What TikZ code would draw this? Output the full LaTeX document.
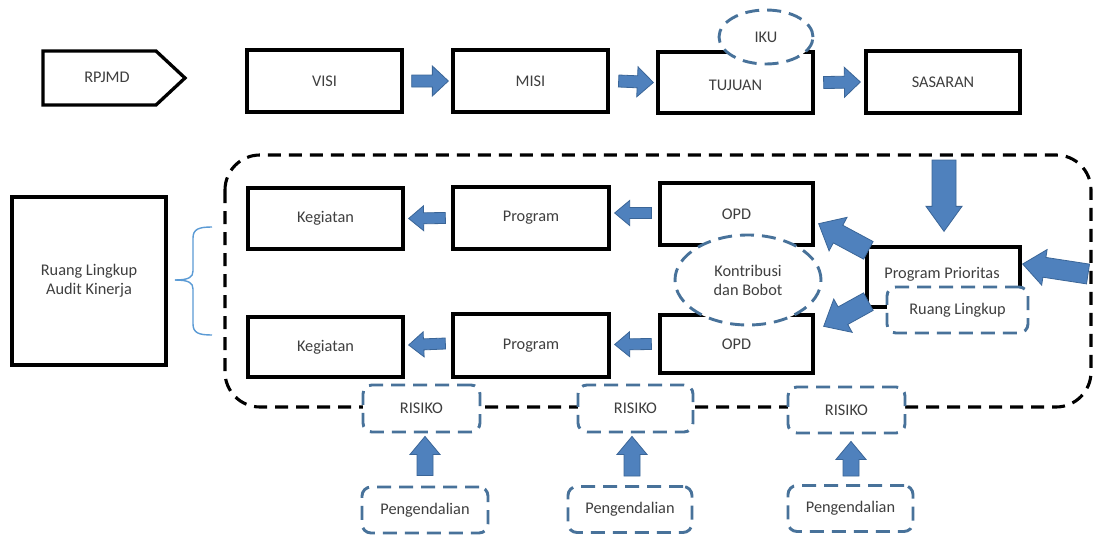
\documentclass[tikz,border=0pt]{standalone}
\usepackage{fontspec}
\setmainfont{Carlito}
\usetikzlibrary{calc,shapes.geometric}
\definecolor{arrowfill}{HTML}{4F81BD}
\definecolor{arrowline}{HTML}{3A6597}
\definecolor{dashblue}{HTML}{48729A}
\definecolor{bracecol}{HTML}{5B9BD5}
\definecolor{txt}{HTML}{3F3F3F}
\tikzset{
  lbl/.style={text=txt, font=\fontsize{16.3}{19}\selectfont},
  box/.style={lbl, draw=black, line width=3.3pt, fill=white, rectangle},
  dbox/.style={lbl, draw=dashblue, line width=2.9pt, dash pattern=on 14pt off 8pt, fill=white, rectangle, rounded corners=9pt},
  dell/.style={lbl, draw=dashblue, line width=2.9pt, dash pattern=on 14pt off 8pt, fill=white, ellipse, inner sep=0pt, align=center},
  blockarrow/.style={fill=arrowfill, draw=arrowline, line width=0.8pt, line join=miter},
}
\newcommand\blockarrow[5]{%
  \path (#1); \pgfgetlastxy{\bax}{\bay}%
  \path (#2); \pgfgetlastxy{\bbx}{\bby}%
  \pgfmathsetmacro\bang{atan2(\bby-\bay,\bbx-\bax)}%
  \pgfmathsetmacro\blen{veclen(\bbx-\bax,\bby-\bay)}%
  \pgfmathsetmacro\bneck{\blen-#5}%
  \filldraw[blockarrow, shift={(\bax,\bay)}, rotate=\bang, x=1pt, y=1pt]
    (0,-#3) -- (\bneck,-#3) -- (\bneck,-#4) -- (\blen,0) -- (\bneck,#4) -- (\bneck,#3) -- (0,#3) -- cycle;
}
\begin{document}
\begin{tikzpicture}[x=1pt,y=-1pt]
\useasboundingbox (0,0) rectangle (1097,535);
\fill[white] (0,0) rectangle (1097,535);

% outer dashed frame
\draw[black, line width=3.1pt, dash pattern=on 13pt off 8pt, rounded corners=35pt] (225,155) rectangle (1091,407);

% RPJMD
\draw[line width=3.3pt, line join=miter] (43,51) -- (156,51) -- (185,78) -- (156,105) -- (43,105) -- cycle;
\node[lbl] (rpjmd) at (107,77) {RPJMD};

% top row
\node[box, minimum width=155pt, minimum height=62pt] (visi) at (324.5,81) {VISI};
\node[box, minimum width=155pt, minimum height=62pt] (misi) at (530.5,81) {MISI};
\node[box, minimum width=155pt, minimum height=61pt] (tujuan) at (735.5,82.5) {};
\node[lbl] at (735.5,85) {TUJUAN};
\node[box, minimum width=154pt, minimum height=62pt] (sasaran) at (943,82) {SASARAN};
\node[dell, minimum width=94pt, minimum height=54pt] (iku) at (766,37) {IKU};

% left box
\node[box, minimum width=154pt, minimum height=168pt, align=center] (rlak) at (89,281) {Ruang Lingkup\\Audit Kinerja};
\draw[bracecol, line width=1.4pt] (212,227) .. controls (199,227) and (193,229) .. (193,238) -- (193,271) .. controls (193,277) and (189,280) .. (175,280);
\draw[bracecol, line width=1.4pt] (212,335) .. controls (199,335) and (193,333) .. (193,324) -- (193,289) .. controls (193,283) and (189,280) .. (175,280);

% row 2
\node[box, minimum width=155pt, minimum height=61pt] (keg1) at (325.5,218.5) {Kegiatan};
\node[box, minimum width=156pt, minimum height=62pt] (prog1) at (531,218) {Program};
\node[box, minimum width=153pt, minimum height=62pt] (opd1) at (736.5,214) {OPD};
\node[box, minimum width=155pt, minimum height=60pt] (keg2) at (325.5,347) {Kegiatan};
\node[box, minimum width=156pt, minimum height=63pt] (prog2) at (531,345.5) {Program};
\node[box, minimum width=153pt, minimum height=58pt] (opd2) at (736.5,344) {OPD};
\node[box, minimum width=153pt, minimum height=60pt] (pp) at (943.5,277) {};
\node[lbl] at (942,274) {Program Prioritas};
\node[dbox, minimum width=141pt, minimum height=46pt] (rl) at (957.5,310) {Ruang Lingkup};
\node[dell, minimum width=146pt, minimum height=90pt] (kon) at (748,280) {Kontribusi\\dan Bobot};

% risiko and pengendalian
\node[dbox, minimum width=117pt, minimum height=47pt] (ris1) at (421.5,408.5) {RISIKO};
\node[dbox, minimum width=115pt, minimum height=47pt] (ris2) at (635.5,408.5) {RISIKO};
\node[dbox, minimum width=117pt, minimum height=46pt] (ris3) at (846.5,410) {RISIKO};
\node[dbox, minimum width=126pt, minimum height=46pt] (pen1) at (425,510) {Pengendalian};
\node[dbox, minimum width=124pt, minimum height=46pt] (pen2) at (630,509.5) {Pengendalian};
\node[dbox, minimum width=125pt, minimum height=46pt] (pen3) at (850.5,508.5) {Pengendalian};

% block arrows top row
\blockarrow{$(visi.east)+(8,0)$}{$(misi.west)+(-3,0)$}{6}{15}{16}
\blockarrow{$(misi.east)+(9,0)$}{$(tujuan.west)+(-3,0)$}{6}{15}{16}
\blockarrow{$(tujuan.east)+(9,0)$}{$(sasaran.west)+(-4,0)$}{6}{15}{16}

% row 2 arrows
\blockarrow{$(prog1.west)+(-6,0)$}{$(keg1.east)+(4,0)$}{5.5}{12.5}{15}
\blockarrow{$(opd1.west)+(-7,-1)$}{$(prog1.east)+(4,-5)$}{5.5}{12.5}{15}
\blockarrow{$(prog2.west)+(-6,-2)$}{$(keg2.east)+(4,-2)$}{5.5}{12.5}{15}
\blockarrow{$(opd2.west)+(-7,0)$}{$(prog2.east)+(4,-1)$}{5.5}{12.5}{15}

% arrows around program prioritas
\coordinate (downtail) at (944,160);
\blockarrow{downtail}{$(pp.north)+(0.5,-14)$}{12}{18}{25}
\coordinate (righttail) at (1088,274);
\blockarrow{righttail}{$(pp.east)+(1,-13)$}{10}{18}{22}
\blockarrow{$(pp.north west)+(3,5)$}{$(opd1.south east)+(4,-23)$}{10}{19}{22}
\blockarrow{$(pp.south west)+(3,-7)$}{$(opd2.north east)+(9,13)$}{10}{19}{22}

% up arrows
\blockarrow{$(pen1.north)+(0,-10)$}{$(ris1.south)+(3.5,3)$}{8}{15}{18}
\blockarrow{$(pen2.north)+(2,-9)$}{$(ris2.south)+(-3.5,3)$}{8}{15}{18}
\blockarrow{$(pen3.north)+(0.5,-8)$}{$(ris3.south)+(4.5,7)$}{8}{15}{18}
\end{tikzpicture}
\end{document}
